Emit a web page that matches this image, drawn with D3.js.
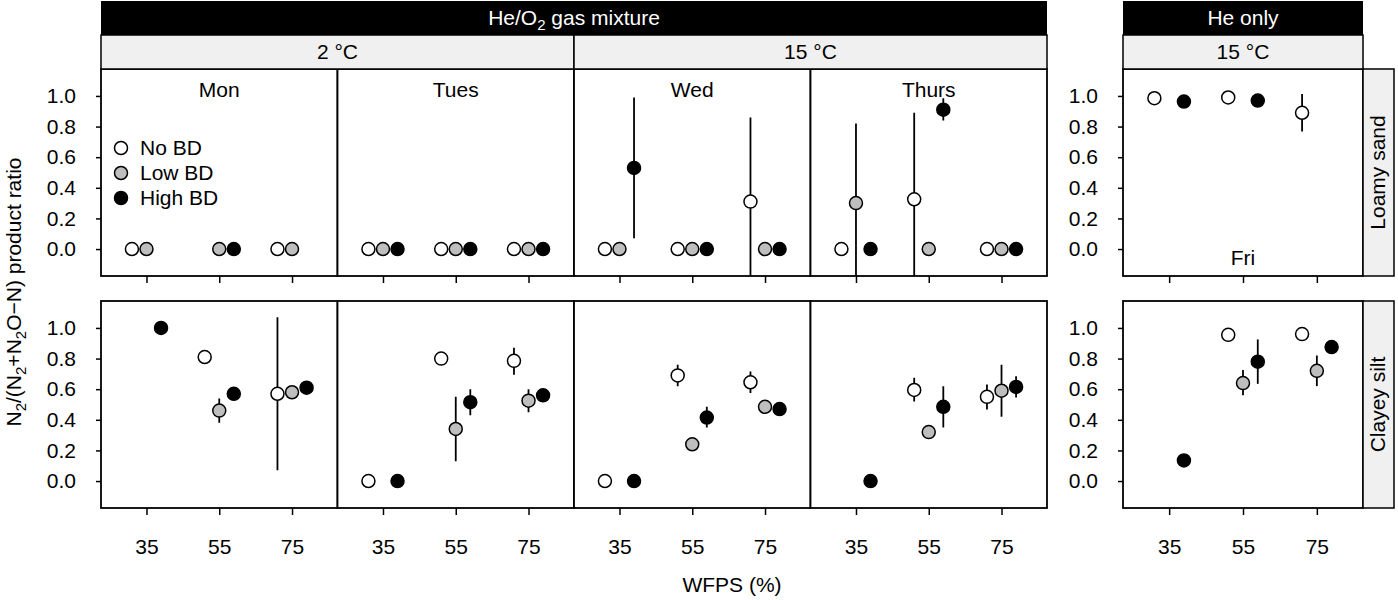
<!DOCTYPE html>
<html>
<head>
<meta charset="utf-8">
<script src="https://cdn.jsdelivr.net/npm/d3@7"></script>
<style>
  body { margin: 0; background: #fff; }
  svg text { font-family: "Liberation Sans", Arial, Helvetica, sans-serif; }
</style>
</head>
<body>
<div id="chart"></div>
<script>
// Categories and ticks
const treatments = ["No BD", "Low BD", "High BD"]
const days = ["Mon", "Tues", "Wed", "Thurs", "Fri"]
const soils = ["Loamy sand", "Clayey silt"]
const wfpsTicks = [35, 55, 75]
const ratioTicks = [0, 0.2, 0.4, 0.6, 0.8, 1.0]

// [day, treatment, WFPS, ratio, lower, upper]
const loamySand = [
    ["Mon", "No BD", 35, 0], ["Mon", "Low BD", 35, 0],
    ["Mon", "Low BD", 55, 0], ["Mon", "High BD", 55, 0],
    ["Mon", "No BD", 75, 0], ["Mon", "Low BD", 75, 0],
    ["Tues", "No BD", 35, 0], ["Tues", "Low BD", 35, 0], ["Tues", "High BD", 35, 0],
    ["Tues", "No BD", 55, 0], ["Tues", "Low BD", 55, 0], ["Tues", "High BD", 55, 0],
    ["Tues", "No BD", 75, 0], ["Tues", "Low BD", 75, 0], ["Tues", "High BD", 75, 0],
    ["Wed", "No BD", 35, 0], ["Wed", "Low BD", 35, 0], ["Wed", "High BD", 35, 0.53, 0.07, 0.99],
    ["Wed", "No BD", 55, 0], ["Wed", "Low BD", 55, 0], ["Wed", "High BD", 55, 0],
    ["Wed", "No BD", 75, 0.31, -0.24, 0.86], ["Wed", "Low BD", 75, 0], ["Wed", "High BD", 75, 0],
    ["Thurs", "No BD", 35, 0], ["Thurs", "Low BD", 35, 0.30, -0.22, 0.82], ["Thurs", "High BD", 35, 0],
    ["Thurs", "No BD", 55, 0.325, -0.24, 0.89], ["Thurs", "Low BD", 55, 0], ["Thurs", "High BD", 55, 0.91, 0.84, 0.985],
    ["Thurs", "No BD", 75, 0], ["Thurs", "Low BD", 75, 0], ["Thurs", "High BD", 75, 0],
    ["Fri", "No BD", 35, 0.985], ["Fri", "High BD", 35, 0.963],
    ["Fri", "No BD", 55, 0.99], ["Fri", "High BD", 55, 0.97],
    ["Fri", "No BD", 75, 0.89, 0.767, 1.013]
]

const clayeySilt = [
    ["Mon", "High BD", 35, 1.0],
    ["Mon", "No BD", 55, 0.81], ["Mon", "Low BD", 55, 0.46, 0.38, 0.54], ["Mon", "High BD", 55, 0.57],
    ["Mon", "No BD", 75, 0.57, 0.07, 1.07], ["Mon", "Low BD", 75, 0.58], ["Mon", "High BD", 75, 0.61],
    ["Tues", "No BD", 35, 0], ["Tues", "High BD", 35, 0],
    ["Tues", "No BD", 55, 0.80], ["Tues", "Low BD", 55, 0.34, 0.13, 0.55], ["Tues", "High BD", 55, 0.515, 0.43, 0.60],
    ["Tues", "No BD", 75, 0.785, 0.695, 0.87], ["Tues", "Low BD", 75, 0.525, 0.45, 0.60], ["Tues", "High BD", 75, 0.56],
    ["Wed", "No BD", 35, 0], ["Wed", "High BD", 35, 0],
    ["Wed", "No BD", 55, 0.69, 0.62, 0.76], ["Wed", "Low BD", 55, 0.24], ["Wed", "High BD", 55, 0.415, 0.35, 0.485],
    ["Wed", "No BD", 75, 0.645, 0.575, 0.715], ["Wed", "Low BD", 75, 0.485], ["Wed", "High BD", 75, 0.47],
    ["Thurs", "High BD", 35, 0],
    ["Thurs", "No BD", 55, 0.595, 0.52, 0.675], ["Thurs", "Low BD", 55, 0.32], ["Thurs", "High BD", 55, 0.485, 0.35, 0.62],
    ["Thurs", "No BD", 75, 0.55, 0.467, 0.63], ["Thurs", "Low BD", 75, 0.59, 0.42, 0.76], ["Thurs", "High BD", 75, 0.615, 0.545, 0.685],
    ["Fri", "High BD", 35, 0.135],
    ["Fri", "No BD", 55, 0.955], ["Fri", "Low BD", 55, 0.64, 0.56, 0.725], ["Fri", "High BD", 55, 0.78, 0.635, 0.925],
    ["Fri", "No BD", 75, 0.96], ["Fri", "Low BD", 75, 0.72, 0.62, 0.82], ["Fri", "High BD", 75, 0.875]
]

function drawChart() {

    const toRecord = r => ({ day: r[0], bd: r[1], wfps: r[2], ratio: r[3], lower: r[4], upper: r[5] })
    const soilData = [loamySand.map(toRecord), clayeySilt.map(toRecord)]

    // Accessors
    const xAccessor = d => d.wfps
    const yAccessor = d => d.ratio

    const dimensions = {
        width: 1398,
        height: 600,
        fontSize: 21
    }

    // panel layout: four gas-mixture days, then the He-only day
    const cols = days.map((d, i) => i < 4
        ? { x: 101 + i * 236.5, w: 236.5 }
        : { x: 1123, w: 240 })
    const rows = [{ y: 69, h: 207 }, { y: 301, h: 207 }]

    const wrapper = d3.select("#chart").append("svg")
        .attr("width", dimensions.width)
        .attr("height", dimensions.height)
        .style("display", "block")

    // Scales
    const fillScale = d3.scaleOrdinal()
        .domain(treatments)
        .range(["#ffffff", "#bebebe", "#000000"])

    // small side-by-side shift (in WFPS units) so treatments don't overlap
    const dodge = d3.scaleOrdinal()
        .domain(treatments)
        .range([-4, 0, 4])

    const makeX = c => d3.scaleLinear().domain([22.5, 87.5]).range([c.x, c.x + c.w])
    const makeY = r => d3.scaleLinear().domain([-0.176, 1.176]).range([r.y + r.h, r.y])

    // helper for text with subscript parts
    function subText(sel, parts) {
        let shift = 0
        parts.forEach(([t, sub]) => {
            const target = sub ? 5 : 0
            sel.append("tspan")
                .attr("dy", target - shift)
                .attr("font-size", sub ? "15px" : null)
                .text(t)
            shift = target
        })
    }

    const defs = wrapper.append("defs")

    rows.forEach((row, ri) => {
        const yScale = makeY(row)
        const data = soilData[ri]

        cols.forEach((col, ci) => {
            const xScale = makeX(col)
            const panelData = data.filter(d => d.day === days[ci])
            const clipId = `clip-${ri}-${ci}`

            defs.append("clipPath").attr("id", clipId)
                .append("rect")
                .attr("x", col.x).attr("y", row.y)
                .attr("width", col.w).attr("height", row.h)

            const panel = wrapper.append("g")

            panel.append("rect")
                .attr("x", col.x).attr("y", row.y)
                .attr("width", col.w).attr("height", row.h)
                .attr("fill", "#fff")

            // error bars
            panel.append("g")
                .attr("clip-path", `url(#${clipId})`)
                .selectAll("line")
                .data(panelData.filter(d => d.lower !== undefined))
                .enter().append("line")
                .attr("x1", d => xScale(xAccessor(d) + dodge(d.bd)))
                .attr("x2", d => xScale(xAccessor(d) + dodge(d.bd)))
                .attr("y1", d => yScale(d.lower))
                .attr("y2", d => yScale(d.upper))
                .attr("stroke", "#000")
                .attr("stroke-width", 1.8)

            // points
            panel.append("g")
                .selectAll("circle")
                .data(panelData)
                .enter().append("circle")
                .attr("cx", d => xScale(xAccessor(d) + dodge(d.bd)))
                .attr("cy", d => yScale(yAccessor(d)))
                .attr("r", 6.5)
                .attr("fill", d => fillScale(d.bd))
                .attr("stroke", "#000")
                .attr("stroke-width", 1.5)

            // panel border
            panel.append("rect")
                .attr("x", col.x).attr("y", row.y)
                .attr("width", col.w).attr("height", row.h)
                .attr("fill", "none")
                .attr("stroke", "#000")
                .attr("stroke-width", 1.8)

            // x axis (labels only on bottom row)
            const xAxisGenerator = d3.axisBottom(xScale)
                .tickValues(wfpsTicks)
                .tickSize(7)
                .tickPadding(24)
                .tickFormat(ri === rows.length - 1 ? d3.format("d") : "")

            const xAxis = panel.append("g")
                .attr("transform", `translate(0, ${row.y + row.h})`)
                .call(xAxisGenerator)
            xAxis.select(".domain").remove()
            xAxis.selectAll("line").attr("stroke-width", 1.5)
            xAxis.selectAll("text")
                .attr("font-size", dimensions.fontSize)
                .attr("font-family", null)
                .attr("fill", "#000")

            // y axis on first gas-mixture panel and on the He-only panel
            if (ci === 0 || ci === 4) {
                const yAxisGenerator = d3.axisLeft(yScale)
                    .tickValues(ratioTicks)
                    .tickFormat(d3.format(".1f"))
                    .tickSize(5)
                    .tickPadding(20)
                const yAxis = panel.append("g")
                    .attr("transform", `translate(${col.x}, 0)`)
                    .call(yAxisGenerator)
                yAxis.select(".domain").remove()
                yAxis.selectAll("line").attr("stroke-width", 1.5)
                yAxis.selectAll("text")
                    .attr("font-size", dimensions.fontSize)
                    .attr("font-family", null)
                    .attr("fill", "#000")
            }

            // day label (top row only)
            if (ri === 0) {
                panel.append("text")
                    .attr("x", col.x + col.w / 2)
                    .attr("y", ci === 4 ? row.y + row.h - 11 : row.y + 28)
                    .attr("text-anchor", "middle")
                    .attr("font-size", dimensions.fontSize)
                    .text(days[ci])
            }
        })

        // soil strip on the right of the He-only panel
        const last = cols[cols.length - 1]
        const stripX = last.x + last.w
        wrapper.append("rect")
            .attr("x", stripX).attr("y", row.y)
            .attr("width", 31).attr("height", row.h)
            .attr("fill", "#f0f0f0")
            .attr("stroke", "#000")
            .attr("stroke-width", 1.5)
        wrapper.append("text")
            .attr("transform", `translate(${stripX + 22}, ${row.y + row.h / 2}) rotate(-90)`)
            .attr("text-anchor", "middle")
            .attr("font-size", dimensions.fontSize)
            .text(soils[ri])
    })

    // Header strips
    const headers = [
        { x0: cols[0].x, x1: cols[3].x + cols[3].w, parts: [["He/O", false], ["2", true], [" gas mixture", false]] },
        { x0: cols[4].x, x1: cols[4].x + cols[4].w, parts: [["He only", false]] }
    ]
    const temps = [
        { x0: cols[0].x, x1: cols[2].x, label: "2 °C" },
        { x0: cols[2].x, x1: cols[3].x + cols[3].w, label: "15 °C" },
        { x0: cols[4].x, x1: cols[4].x + cols[4].w, label: "15 °C" }
    ]

    headers.forEach(h => {
        wrapper.append("rect")
            .attr("x", h.x0).attr("y", 1)
            .attr("width", h.x1 - h.x0).attr("height", 34)
            .attr("fill", "#000")
        const t = wrapper.append("text")
            .attr("x", (h.x0 + h.x1) / 2)
            .attr("y", 25)
            .attr("text-anchor", "middle")
            .attr("font-size", dimensions.fontSize)
            .attr("fill", "#fff")
        subText(t, h.parts)
    })

    temps.forEach(s => {
        wrapper.append("rect")
            .attr("x", s.x0).attr("y", 35)
            .attr("width", s.x1 - s.x0).attr("height", 34)
            .attr("fill", "#f0f0f0")
            .attr("stroke", "#000")
            .attr("stroke-width", 1.5)
        wrapper.append("text")
            .attr("x", (s.x0 + s.x1) / 2)
            .attr("y", 59)
            .attr("text-anchor", "middle")
            .attr("font-size", dimensions.fontSize)
            .text(s.label)
    })

    // Legend inside the Mon / Loamy sand panel
    const legend = wrapper.append("g")
        .selectAll("g")
        .data(treatments)
        .enter().append("g")
        .attr("transform", (d, i) => `translate(121, ${148 + i * 25})`)
    legend.append("circle")
        .attr("r", 6.5)
        .attr("fill", d => fillScale(d))
        .attr("stroke", "#000")
        .attr("stroke-width", 1.5)
    legend.append("text")
        .attr("x", 19)
        .attr("y", 7)
        .attr("font-size", dimensions.fontSize)
        .text(d => d)

    // Axis titles
    wrapper.append("text")
        .attr("x", (cols[0].x + cols[4].x + cols[4].w) / 2)
        .attr("y", 592)
        .attr("text-anchor", "middle")
        .attr("font-size", dimensions.fontSize)
        .text("WFPS (%)")

    const yLabel = wrapper.append("text")
        .attr("transform", "translate(21, 292) rotate(-90)")
        .attr("text-anchor", "middle")
        .attr("font-size", dimensions.fontSize)
    subText(yLabel, [["N", false], ["2", true], ["/(N", false], ["2", true], ["+N", false], ["2", true], ["O\u2212N) product ratio", false]])
}

drawChart()
</script>
</body>
</html>
